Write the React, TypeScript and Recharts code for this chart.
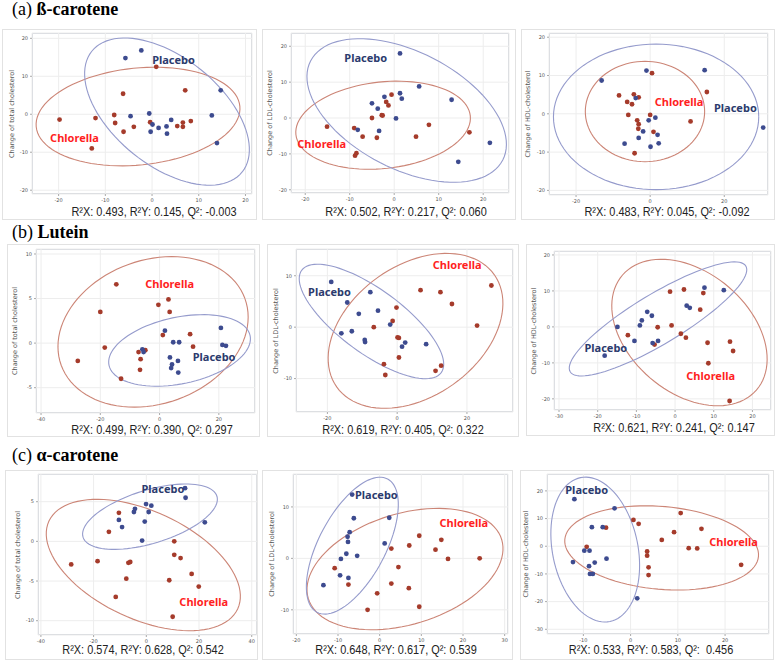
import { CartesianGrid, Scatter, ScatterChart, XAxis, YAxis } from "recharts";

type XY = [number, number];

// (a) ß-carotene
const betaTotalPlacebo: XY[] = [[-5.7, 14.8], [-2.3, 16.8], [14.7, 6.3], [-4.6, -0.5], [-0.6, 0.2], [0.1, -2.7], [-0.3, -4.6], [1.4, -3.6], [3.1, -3.2], [3.2, -5.1], [4.1, -1.5], [12.8, -0.3], [13.9, -7.6]];
const betaTotalChlorella: XY[] = [[0.9, 12.5], [-19.8, -1.4], [-12.1, -1.0], [-12.9, -9.0], [-6.2, 5.4], [-8.1, -0.2], [-7.9, -2.3], [-6.1, -4.6], [-3.9, -3.3], [-0.4, -2.1], [7.1, 6.3], [5.4, -3.1], [6.6, -2.2], [6.6, -3.3], [8.3, -1.8]];
const betaLdlPlacebo: XY[] = [[1.3, 18.0], [5.6, 8.8], [1.3, 6.9], [1.7, 5.4], [-2.2, 5.9], [-5.0, 4.1], [-3.7, 2.6], [0.4, -0.1], [-8.2, -3.3], [-3.4, -3.6], [12.9, 5.1], [21.5, -6.9], [14.4, -12.2]];
const betaLdlChlorella: XY[] = [[-0.6, 6.5], [-1.8, 4.5], [-1.3, 3.5], [-2.8, 0.8], [-2.6, 0.7], [-5.0, 0.0], [-15.1, -2.4], [-9.0, -2.8], [-7.1, -5.2], [-3.9, -5.5], [-8.5, -9.8], [-8.8, -10.5], [4.9, -5.2], [7.8, -1.9], [16.9, -4.0]];
const betaHdlPlacebo: XY[] = [[-13.1, 8.7], [-1.0, 11.3], [14.7, 11.4], [-3.9, 4.1], [-0.4, -1.7], [1.4, -1.0], [-1.9, -4.6], [-3.1, -6.3], [2.0, -5.5], [2.3, -7.7], [0.1, -8.6], [-6.9, -7.8], [30.5, -3.6]];
const betaHdlChlorella: XY[] = [[0.5, 10.6], [-8.4, 4.8], [-4.4, 5.1], [-3.1, 4.3], [-6.2, 3.1], [-4.9, 2.5], [-5.9, -0.3], [0.0, -0.3], [-3.5, -1.7], [-3.1, -2.7], [-3.2, -3.9], [0.9, -4.7], [-4.2, -10.3], [10.9, -2.0], [15.3, 5.7]];

// (b) Lutein
const luteinTotalPlacebo: XY[] = [[1.8, 1.4], [4.6, 0.1], [6.6, 0.1], [20.7, 1.7], [21.2, -0.2], [22.4, -0.3], [-5.8, -0.7], [-5.4, -1.0], [3.5, -1.6], [4.2, -2.4], [3.9, -2.8], [6.2, -2.0], [6.3, -3.3]];
const luteinTotalChlorella: XY[] = [[-14.6, 6.6], [-20.0, 3.5], [-0.4, 4.3], [3.0, 4.9], [3.4, 3.5], [1.1, 0.9], [10.3, 1.0], [11.3, -0.4], [-18.5, -0.5], [-27.6, -2.0], [-7.1, -1.0], [-4.8, -0.8], [-6.4, -1.8], [-6.6, -3.0], [-13.0, -4.0]];
const luteinLdlPlacebo: XY[] = [[-18.9, 8.8], [-14.3, 4.8], [-7.7, 6.8], [-11.0, 2.6], [-5.5, 3.2], [-16.0, -1.2], [-13.0, -0.8], [-9.3, -2.5], [-9.2, -2.9], [-2.0, 0.5], [2.3, -3.0], [1.4, -3.8], [8.3, -3.3]];
const luteinLdlChlorella: XY[] = [[-0.2, 3.8], [-1.3, 1.2], [-6.7, 0.0], [0.1, -2.0], [0.5, -2.1], [0.5, -5.9], [-3.8, -7.2], [-3.4, -9.3], [6.7, 7.2], [12.4, 6.8], [15.7, 4.5], [22.9, 0.3], [27.0, 8.1], [11.0, -8.5], [12.6, -7.5]];
const luteinHdlPlacebo: XY[] = [[7.6, 10.9], [12.6, 10.2], [3.0, 5.9], [3.8, 5.3], [-7.2, 4.2], [-6.0, 3.1], [-8.6, 1.8], [-9.1, 0.4], [-14.9, 0.0], [-10.5, -3.9], [-5.8, -4.5], [-4.4, -3.9], [-18.2, -8.0]];
const luteinHdlChlorella: XY[] = [[-1.3, 9.8], [2.3, 10.4], [7.3, 9.4], [6.5, 4.8], [-4.5, -0.1], [-0.9, 0.4], [1.5, -1.9], [2.8, -3.0], [-12.2, -2.3], [-5.3, -4.9], [8.4, -4.4], [14.2, -4.1], [15.0, -6.7], [8.6, -10.1], [14.1, -20.6]];

// (c) α-carotene
const alphaTotalPlacebo: XY[] = [[14.7, 6.7], [14.9, 5.5], [22.2, 2.4], [-0.1, 4.7], [1.9, 4.5], [-4.3, 4.1], [-4.7, 3.7], [0.9, 3.7], [-10.4, 2.7], [-9.2, 1.8], [-0.6, 2.5], [-1.6, 0.1]];
const alphaTotalChlorella: XY[] = [[-10.4, 3.6], [-14.2, 1.2], [10.6, 0.0], [-28.5, -2.9], [-18.5, -2.5], [-6.8, -2.7], [-6.1, -2.6], [10.6, -1.7], [13.0, -2.1], [17.2, -4.1], [-7.6, -4.7], [8.7, -4.9], [19.9, -5.7], [-11.6, -7.0], [10.0, -9.5]];
const alphaLdlPlacebo: XY[] = [[-6.6, 12.4], [-6.2, 7.8], [2.3, 7.9], [-7.2, 5.1], [-7.7, 4.2], [-7.6, 3.2], [1.2, 2.9], [-8.0, 0.9], [-9.3, -0.1], [-5.4, 0.5], [-9.5, -3.3], [-7.5, -3.8], [-13.5, -5.2]];
const alphaLdlChlorella: XY[] = [[2.8, 1.9], [7.1, 2.5], [9.5, 4.4], [14.8, 3.6], [13.4, 1.7], [16.4, -0.1], [24.0, 0.0], [-10.8, -1.9], [4.5, -1.7], [-7.5, -5.1], [2.8, -4.9], [7.0, -5.8], [-0.6, -6.8], [-2.9, -10.0], [9.5, -9.4]];
const alphaHdlPlacebo: XY[] = [[-11.9, 17.0], [-3.4, 13.7], [-8.2, 6.9], [-5.9, 6.9], [-9.8, -1.6], [-8.7, -1.6], [-12.2, -5.7], [-7.6, -5.9], [-5.1, -4.5], [-8.8, -7.2], [-8.6, -10.0], [-8.0, -10.0], [1.4, -18.8]];
const alphaHdlChlorella: XY[] = [[-5.2, 6.7], [-9.3, -0.2], [0.6, 9.5], [1.7, 8.1], [10.6, 12.0], [9.2, 5.1], [15.0, 6.3], [6.6, 2.3], [12.3, -0.7], [14.1, -0.8], [3.5, -1.9], [3.5, -3.4], [3.8, -7.6], [3.8, -10.4], [23.4, -6.7]];

// confidence ellipses: centre x, centre y, then two semi-axis vectors (data units)
const betaTotalEllipses = { placebo: [3.2, 0.7, 16.1, -15.9, -7.2, -11.1], chlorella: [-3.0, -0.6, 21.8, 2.7, -1.0, 12.7] };
const betaLdlEllipses = { placebo: [2.8, 2.1, 21.6, -13.8, -6.0, -14.5], chlorella: [-2.5, -2.0, 19.6, 2.6, 1.0, -12.0] };
const betaHdlEllipses = { placebo: [1.6, -0.8, 27.7, 0, 0, 19.0], chlorella: [-1.4, 0.6, 16.1, 0, 0, 13.1] };
const luteinTotalEllipses = { placebo: [6.74, -0.82, 23.8, 1.67, 2.35, -3.65], chlorella: [-2.2, 1.26, 31.0, 3.74, 8.3, -7.57] };
const luteinLdlEllipses = { placebo: [-7.37, 1.11, 20.0, -9.95, -5.37, -5.0], chlorella: [5.26, -0.72, 22.6, 10.9, 10.8, -10.4] };
const luteinHdlEllipses = { placebo: [-4.41, 2.22, 22.7, 14.7, 3.35, -5.94], chlorella: [3.72, -1.57, 17.3, -16.0, -10.2, -12.6] };
const alphaTotalEllipses = { placebo: [1.39, 3.11, 25.4, 2.58, 2.95, -3.21], chlorella: [-1.14, -2.98, 35.8, -5.54, -8.65, -6.15] };
const alphaLdlEllipses = { placebo: [-6.56, 2.47, 8.48, 12.95, 7.06, -3.05], chlorella: [6.08, -2.08, 23.2, 5.75, 3.88, -10.3] };
const alphaHdlEllipses = { placebo: [-7.49, -1.2, 3.12, -25.98, -8.86, -3.1], chlorella: [6.57, -0.6, 20.5, -3.06, -0.76, -14.9] };

const TOTAL = "Change of total cholesterol";
const LDL = "Change of LDL-cholesterol";
const HDL = "Change of HDL-cholesterol";

const PLACEBO_DOT = "#3d4b8f";
const CHLORELLA_DOT = "#a53b2b";
const PLACEBO_LINE = "#959bcc";
const CHLORELLA_LINE = "#cc8576";
const PLACEBO_TEXT = "#2c3b6e";
const CHLORELLA_TEXT = "#ff1f1f";

type Panel = {
  box: number[];
  plot: number[];
  xDomain: number[];
  xTicks: number[];
  yDomain: number[];
  yTicks: number[];
  yLabel: string;
  stats: string;
  statsAt: number[];
  placebo: XY[];
  chlorella: XY[];
  ellipses: { placebo: number[]; chlorella: number[] };
  placeboLabel: XY;
  chlorellaLabel: XY;
};

const panels: Panel[] = [
  { box: [2, 29, 255, 191], plot: [32, 33, 252, 194], xDomain: [-25.7, 21.4], xTicks: [-20, -10, 0, 10, 20], yDomain: [-21, 21.4], yTicks: [-20, -10, 0, 10, 20], yLabel: TOTAL, stats: "R²X: 0.493, R²Y: 0.145, Q²: -0.003", statsAt: [154, 212], placebo: betaTotalPlacebo, chlorella: betaTotalChlorella, ellipses: betaTotalEllipses, placeboLabel: [4.6, 14.4], chlorellaLabel: [-16.6, -6.2] },
  { box: [262, 29, 254, 191], plot: [291, 33, 509, 193], xDomain: [-23.2, 25.8], xTicks: [-20, -10, 0, 10, 20], yDomain: [-20.9, 23.7], yTicks: [-20, -10, 0, 10, 20], yLabel: LDL, stats: "R²X: 0.502, R²Y: 0.217, Q²: 0.060", statsAt: [406, 212], placebo: betaLdlPlacebo, chlorella: betaLdlChlorella, ellipses: betaLdlEllipses, placeboLabel: [-6.4, 16.9], chlorellaLabel: [-16.3, -7.2] },
  { box: [521, 29, 254, 191], plot: [549, 33, 768, 195], xDomain: [-27.3, 31.8], xTicks: [-20, 0, 20], yDomain: [-21.2, 21.1], yTicks: [-20, -10, 0, 10, 20], yLabel: HDL, stats: "R²X: 0.483, R²Y: 0.045, Q²: -0.092", statsAt: [667, 212], placebo: betaHdlPlacebo, chlorella: betaHdlChlorella, ellipses: betaHdlEllipses, placeboLabel: [23.0, 1.7], chlorellaLabel: [7.8, 3.1] },
  { box: [7, 244, 253, 193], plot: [36, 249, 255, 413], xDomain: [-41.7, 32.2], xTicks: [-40, -20, 0, 20], yDomain: [-7.84, 10.56], yTicks: [-5, 0, 5, 10], yLabel: TOTAL, stats: "R²X: 0.499, R²Y: 0.390, Q²: 0.297", statsAt: [152, 430], placebo: luteinTotalPlacebo, chlorella: luteinTotalChlorella, ellipses: luteinTotalEllipses, placeboLabel: [18.4, -1.5], chlorellaLabel: [3.4, 6.7] },
  { box: [267, 244, 252, 193], plot: [296, 249, 513, 412], xDomain: [-29.0, 33.2], xTicks: [-20, 0, 20], yDomain: [-16.5, 15.2], yTicks: [-10, 0, 10], yLabel: LDL, stats: "R²X: 0.619, R²Y: 0.405, Q²: 0.322", statsAt: [403, 430], placebo: luteinLdlPlacebo, chlorella: luteinLdlChlorella, ellipses: luteinLdlEllipses, placeboLabel: [-19.4, 6.9], chlorellaLabel: [17.2, 12.2] },
  { box: [526, 244, 249, 192], plot: [554, 251, 771, 410], xDomain: [-31.3, 24.8], xTicks: [-30, -20, -10, 0, 10, 20], yDomain: [-23.1, 21.1], yTicks: [-20, -10, 0, 10, 20], yLabel: HDL, stats: "R²X: 0.621, R²Y: 0.241, Q²: 0.147", statsAt: [674, 428], placebo: luteinHdlPlacebo, chlorella: luteinHdlChlorella, ellipses: luteinHdlEllipses, placeboLabel: [-17.9, -5.8], chlorellaLabel: [9.2, -13.4] },
  { box: [5, 470, 253, 190], plot: [38, 474, 257, 635], xDomain: [-41.1, 42.0], xTicks: [-40, -20, 0, 20, 40], yDomain: [-11.8, 8.49], yTicks: [-10, -5, 0, 5], yLabel: TOTAL, stats: "R²X: 0.574, R²Y: 0.628, Q²: 0.542", statsAt: [143, 650], placebo: alphaTotalPlacebo, chlorella: alphaTotalChlorella, ellipses: alphaTotalEllipses, placeboLabel: [6.3, 6.6], chlorellaLabel: [21.8, -7.6] },
  { box: [262, 470, 251, 190], plot: [293, 474, 508, 634], xDomain: [-20.8, 30.8], xTicks: [-20, -10, 0, 10, 20, 30], yDomain: [-14.7, 16.4], yTicks: [-10, 0, 10], yLabel: LDL, stats: "R²X: 0.648, R²Y: 0.617, Q²: 0.539", statsAt: [396, 650], placebo: alphaLdlPlacebo, chlorella: alphaLdlChlorella, ellipses: alphaLdlEllipses, placeboLabel: [-0.8, 12.5], chlorellaLabel: [20.2, 7.0] },
  { box: [520, 470, 254, 190], plot: [547, 474, 769, 634], xDomain: [-17.7, 29.3], xTicks: [-10, 0, 10, 20], yDomain: [-31.7, 26.1], yTicks: [-30, -20, -10, 0, 10, 20], yLabel: HDL, stats: "R²X: 0.533, R²Y: 0.583, Q²:  0.456", statsAt: [651, 650], placebo: alphaHdlPlacebo, chlorella: alphaHdlChlorella, ellipses: alphaHdlEllipses, placeboLabel: [-9.3, 20.5], chlorellaLabel: [21.8, 1.8] },
];

const headings = [
  { tag: "(a) ", name: "ß-carotene", top: -1 },
  { tag: "(b) ", name: "Lutein", top: 222 },
  { tag: "(c) ", name: "α-carotene", top: 445 },
];

function ellipse(e: number[]) {
  const [cx, cy, ax, ay, bx, by] = e;
  const pts: { x: number; y: number }[] = [];
  for (let i = 0; i <= 96; i++) {
    const t = (i / 96) * Math.PI * 2;
    pts.push({ x: cx + ax * Math.cos(t) + bx * Math.sin(t), y: cy + ay * Math.cos(t) + by * Math.sin(t) });
  }
  return pts;
}

const toPts = (a: XY[]) => a.map(([x, y]) => ({ x, y }));

const dot = (fill: string) => (p: any) => <circle cx={p.cx} cy={p.cy} r={2.4} fill={fill} />;
const label = (text: string, fill: string) => (p: any) => (
  <text x={p.cx} y={p.cy} textAnchor="middle" dominantBaseline="central" fill={fill}
    fontSize={11} fontWeight={700} fontFamily="'Noto Sans', sans-serif">{text}</text>
);
const none = () => <g />;

const YW = 12;
const XH = 10;
const tickStyle = { fontSize: 5, fill: "#555", fontFamily: "DejaVu Sans" };

function ScorePlot({ p }: { p: Panel }) {
  const [bx, by, bw, bh] = p.box;
  const [pl, pt, pr, pb] = p.plot;
  const margin = { top: pt - by, left: pl - bx - YW, right: bx + bw - pr, bottom: by + bh - pb - XH };
  const labelLen = pb - pt;
  return (
    <>
      <div style={{ position: "absolute", left: bx, top: by, width: bw, height: bh, border: "1px solid #e2e2e2", boxSizing: "border-box" }} />
      <div style={{ position: "absolute", left: pl, top: pt, width: pr - pl, height: pb - pt, border: "1px solid #cdd1d8", boxSizing: "border-box" }} />
      <div style={{ position: "absolute", left: bx, top: by }}>
        <ScatterChart width={bw} height={bh} margin={margin}>
          <CartesianGrid stroke="#ededed" />
          <XAxis type="number" dataKey="x" domain={p.xDomain} ticks={p.xTicks} interval={0} height={XH}
            allowDataOverflow axisLine={false} tickSize={2} tickLine={{ stroke: "#aaa" }} tick={tickStyle} />
          <YAxis type="number" dataKey="y" domain={p.yDomain} ticks={p.yTicks} interval={0} width={YW}
            allowDataOverflow axisLine={false} tickSize={2} tickLine={{ stroke: "#aaa" }} tick={tickStyle} />
          <Scatter data={ellipse(p.ellipses.chlorella)} line={{ stroke: CHLORELLA_LINE, strokeWidth: 1.1 }} lineType="joint" shape={none} isAnimationActive={false} />
          <Scatter data={ellipse(p.ellipses.placebo)} line={{ stroke: PLACEBO_LINE, strokeWidth: 1.1 }} lineType="joint" shape={none} isAnimationActive={false} />
          <Scatter data={toPts(p.chlorella)} shape={dot(CHLORELLA_DOT)} isAnimationActive={false} />
          <Scatter data={toPts(p.placebo)} shape={dot(PLACEBO_DOT)} isAnimationActive={false} />
          <Scatter data={toPts([p.placeboLabel])} shape={label("Placebo", PLACEBO_TEXT)} isAnimationActive={false} />
          <Scatter data={toPts([p.chlorellaLabel])} shape={label("Chlorella", CHLORELLA_TEXT)} isAnimationActive={false} />
        </ScatterChart>
      </div>
      <div style={{
        position: "absolute", left: pl - 21 - labelLen / 2, top: (pt + pb) / 2 - 5, width: labelLen, height: 10,
        lineHeight: "10px", fontSize: 6.5, color: "#555", textAlign: "center", fontFamily: "DejaVu Sans",
        transform: "rotate(-90deg)", whiteSpace: "nowrap",
      }}>{p.yLabel}</div>
      <div style={{
        position: "absolute", left: p.statsAt[0] - 130, top: p.statsAt[1] - 7, width: 260, height: 14, lineHeight: "14px",
        textAlign: "center", fontSize: 13, color: "#222", whiteSpace: "pre",
        fontFamily: "'Liberation Sans', sans-serif", transform: "scaleX(0.84)",
      }}>{p.stats}</div>
    </>
  );
}

export default function App() {
  return (
    <div style={{ position: "absolute", left: 0, top: 0, width: 778, height: 661, background: "#fff", overflow: "hidden" }}>
      {headings.map((h) => (
        <div key={h.name} style={{ position: "absolute", left: 12, top: h.top, fontFamily: "'Liberation Serif', serif", fontSize: 18, lineHeight: "20px", whiteSpace: "nowrap", color: "#000" }}>
          {h.tag}<b>{h.name}</b>
        </div>
      ))}
      {panels.map((p, i) => <ScorePlot key={i} p={p} />)}
    </div>
  );
}
